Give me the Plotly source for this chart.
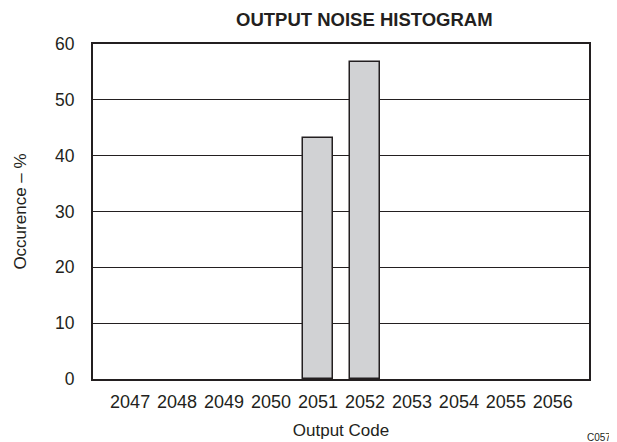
import plotly.graph_objects as go

codes = [2047, 2048, 2049, 2050, 2051, 2052, 2053, 2054, 2055, 2056]
occurrence = [0, 0, 0, 0, 43.2, 56.8, 0, 0, 0, 0]
y_ticks = [0, 10, 20, 30, 40, 50, 60]

ink = "#231f20"
font = "Liberation Sans, Arial, sans-serif"

# the page body adds an 8px offset, so work in page pixels and shift by it
OFF = 8
W, H = 617 - OFF, 442 - OFF
L, T = 93 - OFF, 44 - OFF
R = W - (589 - OFF)
B = H - (379 - OFF)
pw, ph = W - L - R, H - T - B

def px(x):
    return (x - OFF - L) / pw

def py(y):
    return (H - B - (y - OFF)) / ph

fig = go.Figure()
fig.add_trace(go.Bar(
    x=codes, y=occurrence, width=0.62,
    marker=dict(color="#d1d2d4",
                line=dict(color=ink, width=[1.5 if v > 0 else 0 for v in occurrence])),
    showlegend=False,
))

fig.update_layout(
    width=W, height=H,
    margin=dict(l=L, r=R, t=T, b=B, autoexpand=False),
    paper_bgcolor="white", plot_bgcolor="white",
    font=dict(family=font, color=ink, size=17),
    xaxis=dict(
        range=[2046.21, 2056.77], tickvals=codes, ticktext=[str(c) for c in codes],
        showgrid=False, zeroline=False, showline=True, linecolor=ink, linewidth=2,
        mirror=True, ticks="", ticklabelstandoff=5, automargin=False,
        tickfont=dict(size=18),
        title=dict(text="Output Code", font=dict(size=17), standoff=14),
    ),
    yaxis=dict(
        range=[0, 60], tickvals=y_ticks, showgrid=True, gridcolor=ink, gridwidth=1,
        zeroline=False, showline=True, linecolor=ink, linewidth=2, mirror=True,
        ticks="", ticklabelstandoff=13, automargin=False, tickfont=dict(size=17.5),
        title=dict(text="Occurence – %", font=dict(size=17), standoff=24),
    ),
    bargap=0,
    annotations=[
        dict(text="<b>OUTPUT NOISE HISTOGRAM</b>", x=px(364), y=py(20), xref="paper", yref="paper",
             showarrow=False, yanchor="middle", font=dict(size=18.5, family=font, color=ink)),
        dict(text="C057", x=px(585), y=py(430), xref="paper", yref="paper", showarrow=False,
             font=dict(size=10, family=font, color=ink), xanchor="left", yanchor="top"),
    ],
)

fig.write_html("out.html")
